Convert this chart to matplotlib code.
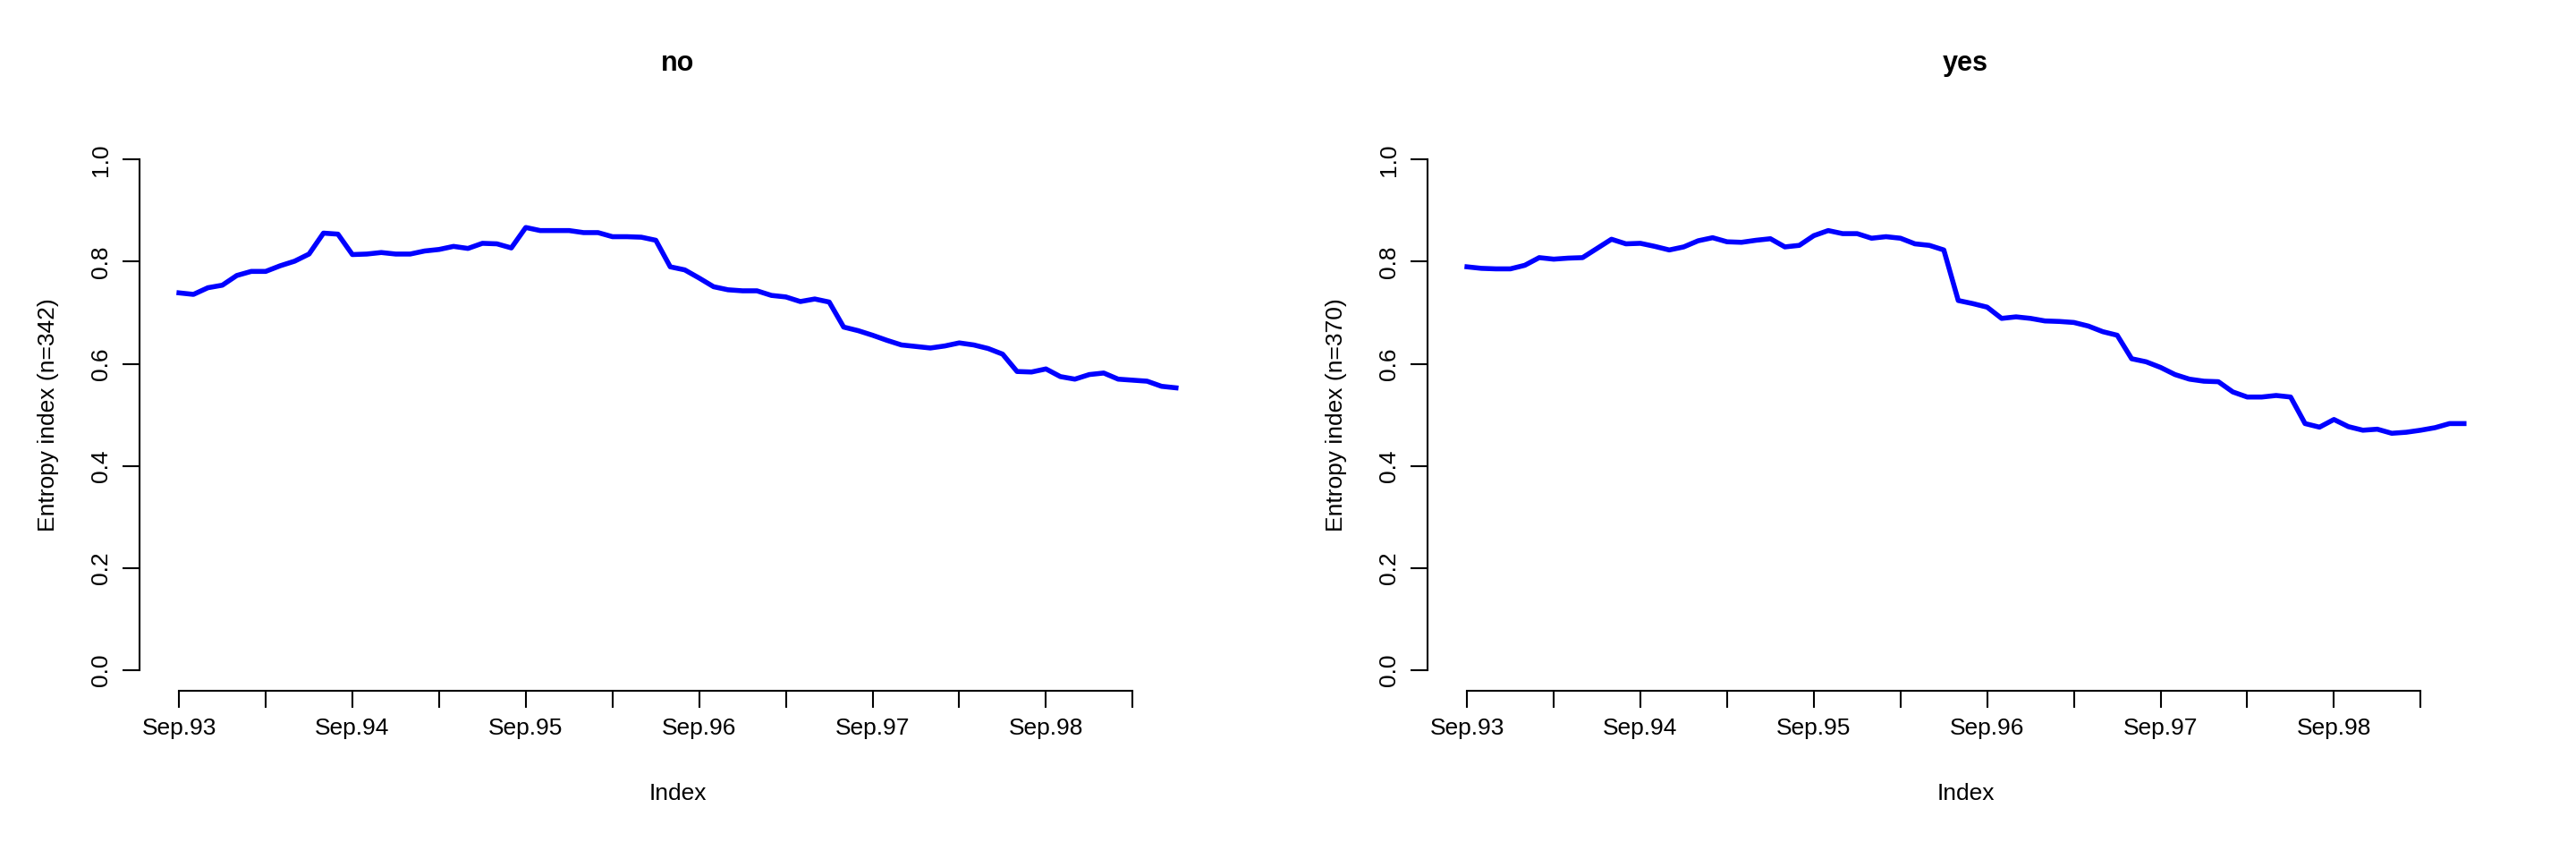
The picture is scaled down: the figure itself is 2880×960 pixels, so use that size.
import matplotlib.pyplot as plt

# Entropy index, monthly from Sep.93
no_vals = [0.739, 0.736, 0.749, 0.754, 0.773, 0.781, 0.781, 0.792, 0.801, 0.815,
           0.856, 0.854, 0.814, 0.815, 0.818, 0.815, 0.815, 0.821, 0.824, 0.830,
           0.826, 0.836, 0.835, 0.827, 0.867, 0.861, 0.861, 0.861, 0.857, 0.857,
           0.849, 0.849, 0.848, 0.842, 0.790, 0.784, 0.768, 0.751, 0.745, 0.743,
           0.743, 0.734, 0.731, 0.722, 0.727, 0.721, 0.672, 0.665, 0.656, 0.646,
           0.637, 0.634, 0.631, 0.635, 0.641, 0.637, 0.630, 0.619, 0.585, 0.584,
           0.590, 0.575, 0.570, 0.579, 0.582, 0.570, 0.568, 0.566, 0.556, 0.553]
yes_vals = [0.790, 0.787, 0.786, 0.786, 0.793, 0.808, 0.805, 0.807, 0.808, 0.826,
            0.844, 0.835, 0.836, 0.830, 0.823, 0.829, 0.841, 0.847, 0.839, 0.838,
            0.842, 0.845, 0.829, 0.832, 0.851, 0.861, 0.855, 0.855, 0.846, 0.849,
            0.846, 0.835, 0.832, 0.823, 0.724, 0.718, 0.711, 0.689, 0.692, 0.689,
            0.684, 0.683, 0.681, 0.674, 0.663, 0.656, 0.610, 0.604, 0.593, 0.579,
            0.570, 0.566, 0.565, 0.545, 0.535, 0.535, 0.538, 0.535, 0.483, 0.476,
            0.491, 0.477, 0.470, 0.472, 0.464, 0.466, 0.470, 0.475, 0.483, 0.483]
titles = ["no", "yes"]
ylabels = ["Entropy index (n=342)", "Entropy index (n=370)"]
tick_pos = list(range(0, 67, 6))
tick_labels = ["Sep.93", "", "Sep.94", "", "Sep.95", "", "Sep.96", "", "Sep.97", "", "Sep.98", ""]

plt.rcParams['font.family'] = ['Liberation Sans', 'DejaVu Sans']
fig = plt.figure(figsize=(28.8, 9.6), dpi=100)

for k, (vals, title, ylab) in enumerate(zip([no_vals, yes_vals], titles, ylabels)):
    ax = fig.add_axes([0.054 + k * 0.5, 0.196, 0.418, 0.642])
    x = list(range(len(vals)))
    ax.plot(x, vals, color='blue', lw=4)
    n = len(vals) - 1
    ax.set_xlim(-0.04 * n, n * 1.04)
    ax.set_ylim(-0.04, 1.04)
    ax.set_xticks(tick_pos)
    ax.set_xticklabels(tick_labels, fontsize=19)
    ax.set_yticks([0, 0.2, 0.4, 0.6, 0.8, 1.0])
    ax.set_yticklabels(["0.0", "0.2", "0.4", "0.6", "0.8", "1.0"], fontsize=19, rotation=90, va='center')
    for s in ['top', 'right']:
        ax.spines[s].set_visible(False)
    ax.spines['bottom'].set_bounds(0, 66)
    ax.spines['left'].set_bounds(0, 1)
    ax.spines['bottom'].set_linewidth(1.5)
    ax.spines['left'].set_linewidth(1.5)
    ax.tick_params(length=14, width=1.5, pad=8)
    ax.set_title(title, fontsize=22, fontweight='bold', pad=55)
    ax.set_xlabel("Index", fontsize=19, labelpad=35)
    ax.set_ylabel(ylab, fontsize=19, labelpad=25)

fig.savefig("out.png")
